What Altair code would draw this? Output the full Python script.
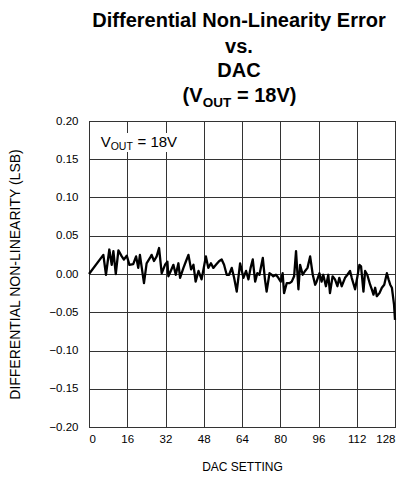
import altair as alt
import pandas as pd

dac = [0, 6.0, 7.1, 8.5, 9.5, 10.2, 11.2, 12.3, 13.7, 14.6, 15.8, 16.9, 18.5, 19.7, 20.6, 21.3,
       23.0, 24.1, 25.5, 26.2, 27.2, 28.3, 29.3, 30.4, 31.8, 32.8, 33.2, 34.2, 35.3, 36.3, 37.4,
       38.1, 39.5, 40.6, 41.6, 42.7, 43.7, 44.6, 45.8, 47.1, 48.9, 49.9, 51.0, 52.0, 53.1, 54.5,
       55.5, 56.5, 57.6, 58.6, 59.7, 60.7, 61.8, 63.2, 64.6, 65.7, 66.7, 67.6, 68.5, 69.5, 70.4,
       71.3, 72.7, 73.6, 74.3, 75.5, 76.4, 77.1, 78.2, 79.2, 80.2, 81.0, 81.6, 82.7, 83.8, 84.8,
       85.8, 86.6, 87.6, 88.3, 89.4, 90.4, 91.4, 92.5, 93.6, 94.6, 95.2, 96.4, 97.3, 98.0, 99.1,
       100.1, 100.8, 101.9, 102.9, 103.9, 104.7, 105.7, 107.1, 108.1, 109.2, 109.9, 111.3, 112.3,
       113.1, 113.8, 114.8, 115.5, 116.4, 117.6, 118.3, 119.0, 119.7, 120.4, 121.5, 122.5, 123.5,
       124.6, 125.3, 126.0, 126.7, 127.6, 128.0]
dnl = [0.000, 0.025, -0.001, 0.032, 0.012, 0.030, 0.000, 0.031, 0.023, 0.019, 0.024, 0.012, 0.013,
       0.023, 0.008, 0.025, -0.012, 0.014, 0.021, 0.025, 0.017, 0.023, 0.034, 0.001, 0.012, 0.016,
       -0.003, 0.004, 0.012, -0.001, 0.014, -0.005, 0.008, 0.017, 0.025, 0.006, 0.012, -0.010,
       0.004, -0.007, 0.023, 0.008, 0.014, 0.008, 0.012, 0.017, 0.019, 0.012, -0.001, -0.001,
       0.008, -0.005, -0.023, 0.014, -0.005, 0.004, -0.007, 0.008, 0.019, -0.010, 0.001, -0.001,
       0.021, -0.007, -0.023, 0.001, -0.001, -0.003, -0.001, -0.005, -0.010, 0.001, -0.025, -0.012,
       -0.012, -0.010, -0.003, 0.030, -0.020, 0.012, -0.001, 0.004, 0.008, 0.023, -0.001, -0.014,
       -0.010, 0.001, -0.010, -0.001, -0.016, -0.001, -0.025, -0.003, -0.007, -0.016, -0.005,
       -0.016, -0.005, -0.001, 0.004, -0.005, -0.020, -0.003, 0.012, 0.010, -0.023, 0.004, -0.001,
       -0.014, -0.020, -0.027, -0.018, -0.029, -0.025, -0.018, -0.014, 0.001, -0.007, -0.014,
       -0.018, -0.040, -0.060]

x_ticks = [0, 16, 32, 48, 64, 80, 96, 112, 128]
y_ticks = [-0.20, -0.15, -0.10, -0.05, 0.00, 0.05, 0.10, 0.15, 0.20]

title_lines = ["Differential Non-Linearity Error", "vs.", "DAC"]
FONT = "Liberation Sans"

df = pd.DataFrame({"dac": dac, "dnl": dnl})

line = alt.Chart(df).mark_line(color="black", strokeWidth=2.3, strokeJoin="round").encode(
    x=alt.X("dac:Q", scale=alt.Scale(domain=[0, 128], nice=False, zero=False),
            axis=alt.Axis(values=x_ticks, title="DAC SETTING", ticks=False, labelPadding=6,
                          labelFontSize=11.5, labelFont=FONT, labelColor="black",
                          titleFont=FONT, titleFontSize=12, titleFontWeight="normal",
                          titleColor="black", titleY=39, titleBaseline="middle",
                          grid=True, gridColor="#333333", gridWidth=1, domain=False)),
    y=alt.Y("dnl:Q", scale=alt.Scale(domain=[-0.2, 0.2], nice=False, zero=False),
            axis=alt.Axis(values=y_ticks, format=".2f", title="DIFFERENTIAL NON-LINEARITY (LSB)",
                          ticks=False, labelPadding=11, labelFontSize=11.5, labelFont=FONT,
                          labelColor="black", titleFont=FONT, titleFontSize=14,
                          titleFontWeight="normal", titleColor="black", titleX=-74,
                          titleBaseline="middle", grid=True, gridColor="#333333", gridWidth=1,
                          domain=False)),
)

box = alt.Chart(df.head(1)).mark_rect(fill="white").encode(
    x=alt.value(1), x2=alt.value(104), y=alt.value(12), y2=alt.value(31))

def txt(t, x, y, size, weight="normal", align="left"):
    return alt.Chart(df.head(1)).mark_text(
        text=t, font=FONT, fontSize=size, fontWeight=weight, align=align,
        baseline="alphabetic", color="black").encode(x=alt.value(x), y=alt.value(y))

inset = [
    txt("V", 11.7, 26, 15),
    txt("OUT", 21.7, 29, 10.5),
    txt("= 18V", 48.5, 26, 15),
]

title = [
    txt(title_lines[0], 150, -94, 20, "bold", "center"),
    txt(title_lines[1], 150, -68, 20, "bold", "center"),
    txt(title_lines[2], 150, -44, 20, "bold", "center"),
    txt("(V", 113.5, -19, 20, "bold", "right"),
    txt("OUT", 128.0, -14, 13.5, "bold", "center"),
    txt("= 18V)", 148.0, -19, 20, "bold", "left"),
]

chart = alt.layer(line, box, *inset, *title).properties(
    width=306, height=306,
    autosize=alt.AutoSizeParams(type="none"),
    padding={"left": 81, "top": 113, "right": 8, "bottom": 50},
).configure_view(stroke="black", strokeWidth=1)

chart.save("out.html", embed_options={"renderer": "svg", "actions": False})
